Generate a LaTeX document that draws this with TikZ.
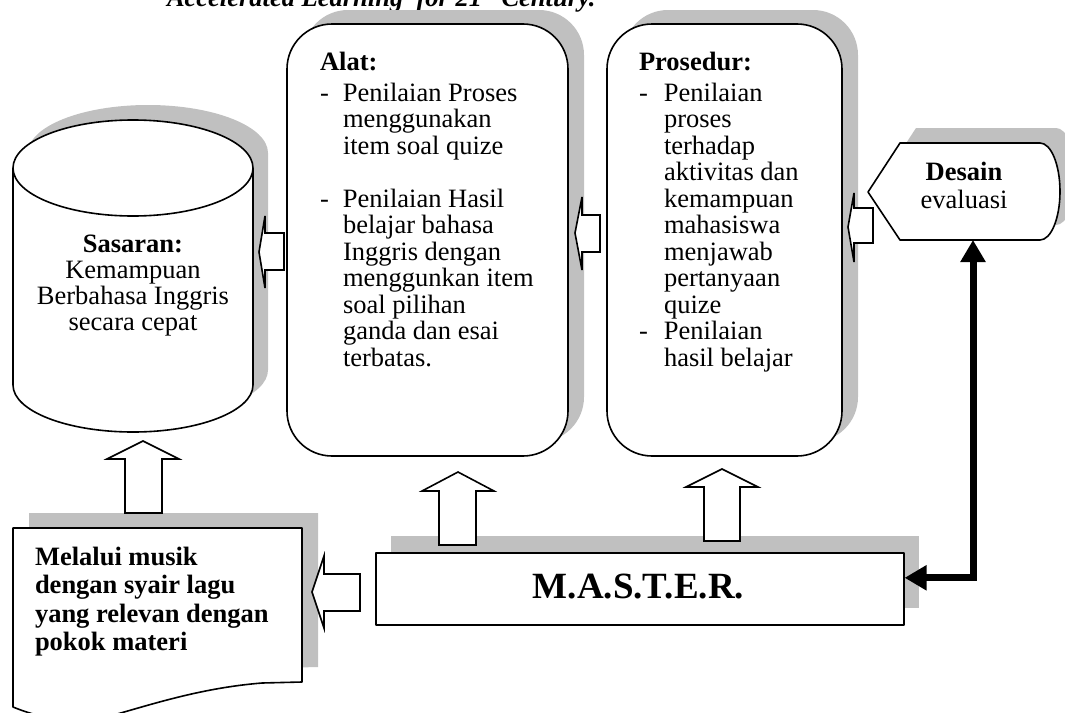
\documentclass[tikz,border=0pt]{standalone}
\usepackage{fontspec}
\setmainfont{Liberation Serif}
\usetikzlibrary{arrows.meta}
\definecolor{shadegray}{RGB}{192,192,192}
\newcommand{\fsz}[2]{\fontsize{#1}{#2}\selectfont}
\begin{document}
\begin{tikzpicture}[x=1pt,y=-1pt,
  shadowfill/.style={fill=shadegray,draw=none},
  outline/.style={draw=black,line width=1.6pt,fill=white,line join=round},
  blockarrow/.style={draw=black,line width=1.6pt,fill=white,line join=miter},
  txt/.style={inner sep=0pt,outer sep=0pt},
  bigarrow/.style={line width=7pt,line join=miter,{Triangle[length=22pt,width=24pt]}-{Triangle[length=22pt,width=24pt]}},
  cylpath/.style={insert path={(13,168) -- (13,385) arc[start angle=180,end angle=360,x radius=120pt,y radius=47pt] -- (253,168) arc[start angle=0,end angle=180,x radius=120pt,y radius=48pt] -- cycle}},
  despath/.style={insert path={(868,192) -- (900,143) -- (1040,143) arc[start angle=90,end angle=-90,x radius=20pt,y radius=48.5pt] -- (900,240) -- cycle}},
  docpath/.style={insert path={(13,528) -- (302,528) -- (302,682) -- (262,683) .. controls (200,688) and (150,705) .. (110,716) .. controls (70,726) and (35,716) .. (13,707) -- cycle}}
]
\useasboundingbox (0,0) rectangle (1065,712);
\clip (0,0) rectangle (1065,712);

% title (cut off at the top)
\node[txt,anchor=base west] (title) at (167,6) {\fsz{26.5}{26.5}\bfseries\itshape Accelerated Learning\ \ for 21\textsuperscript{st} Century.};

% shadows
\fill[shadowfill,shift={(15,-15)},cylpath];
\fill[shadowfill,rounded corners=45pt] (303,10) rectangle (584,442);
\fill[shadowfill,rounded corners=45pt] (623,10) rectangle (858,442);
\fill[shadowfill,shift={(16,-15)},despath];
\fill[shadowfill] (391,536) rectangle (919,608);
\fill[shadowfill,shift={(16,-15)},docpath];

% shapes
\draw[outline,cylpath];
\draw[line width=1.6pt] (13,168) arc[start angle=180,end angle=360,x radius=120pt,y radius=48pt];
\draw[outline,rounded corners=45pt] (287,24) rectangle (568,456);
\draw[outline,rounded corners=45pt] (607,24) rectangle (842,456);
\draw[outline,despath];
\draw[outline,docpath];
\node[outline,minimum width=528pt,minimum height=72pt,inner sep=0pt,anchor=north west] (master) at (375,552) {};

% texts
\node[txt,anchor=base] (sasaran) at (133,252) {\fsz{26.5}{26}\begin{tabular}[t]{@{}c@{}}\textbf{Sasaran:}\\Kemampuan\\Berbahasa Inggris\\secara cepat\end{tabular}};

\node[txt,anchor=base west] (alat) at (320,70) {\fsz{26.5}{26.5}\begin{tabular}[t]{@{}l@{}l@{}}\multicolumn{2}{@{}l@{}}{\textbf{Alat:}}\\[4.5pt]
\makebox[23pt][l]{-} & Penilaian Proses\\
 & menggunakan\\
 & item soal quize\\
 & \\
- & Penilaian Hasil\\
 & belajar bahasa\\
 & Inggris dengan\\
 & menggunkan item\\
 & soal pilihan\\
 & ganda dan esai\\
 & terbatas.\end{tabular}};

\node[txt,anchor=base west] (prosedur) at (639,70) {\fsz{26.5}{26.5}\begin{tabular}[t]{@{}l@{}l@{}}\multicolumn{2}{@{}l@{}}{\textbf{Prosedur:}}\\[4.5pt]
\makebox[25pt][l]{-} & Penilaian\\
 & proses\\
 & terhadap\\
 & aktivitas dan\\
 & kemampuan\\
 & mahasiswa\\
 & menjawab\\
 & pertanyaan\\
 & quize\\
- & Penilaian\\
 & hasil belajar\end{tabular}};

\node[txt,anchor=base] (desain) at (964,180) {\fsz{26.5}{28}\begin{tabular}[t]{@{}c@{}}\textbf{Desain}\\evaluasi\end{tabular}};

\node[txt,anchor=base west] (melalui) at (35,565) {\fsz{26.5}{28.5}\bfseries\begin{tabular}[t]{@{}l@{}}Melalui musik\\dengan syair lagu\\yang relevan dengan\\pokok materi\end{tabular}};

\node[txt,anchor=base] (mastertxt) at (638.5,598) {\fsz{37}{37}\bfseries M.A.S.T.E.R.};

% block arrows (left)
\draw[blockarrow] (259,252) -- (265,216) -- (265,233) -- (284,233) -- (284,270) -- (265,270) -- (265,288) -- cycle;
\draw[blockarrow] (575,233) -- (582,197) -- (582,215) -- (600,215) -- (600,252) -- (582,252) -- (582,270) -- cycle;
\draw[blockarrow] (848,227) -- (854,193) -- (854,208) -- (873,208) -- (873,243) -- (854,243) -- (854,262) -- cycle;
\draw[blockarrow] (312,592) -- (324,556) -- (324,574) -- (360,574) -- (360,611) -- (324,611) -- (324,628) -- cycle;
% block arrows (up)
\draw[blockarrow] (143,441) -- (179,459) -- (162,459) -- (162,513) -- (125,513) -- (125,459) -- (107,459) -- cycle;
\draw[blockarrow] (458,472) -- (494,491) -- (476,491) -- (476,545) -- (439,545) -- (439,491) -- (422,491) -- cycle;
\draw[blockarrow] (722,469) -- (758,487) -- (740,487) -- (740,541) -- (704,541) -- (704,487) -- (686,487) -- cycle;

% thick two-headed connector
\coordinate (desainS) at (973,240);
\draw[bigarrow] (desainS) |- ([yshift=11pt]master.east);
\end{tikzpicture}
\end{document}
